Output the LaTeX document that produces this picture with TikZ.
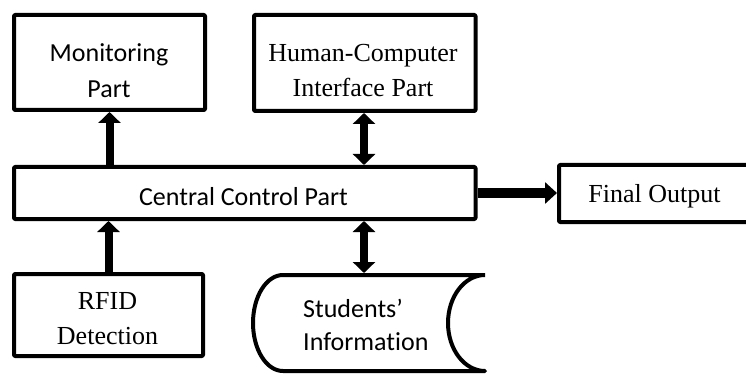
\documentclass[tikz,border=0pt]{standalone}
\usepackage{fontspec}
\setmainfont{Liberation Serif}
\newfontfamily\calfont[Ligatures={NoCommon,NoContextual}]{Carlito}
\usetikzlibrary{arrows.meta}

\begin{document}
\begin{tikzpicture}[x=1pt,y=1pt,
  box/.style={draw, line width=4pt, line join=round, rounded corners=1pt,
    inner sep=0pt, rectangle},
  lbl/.style={inner sep=0pt, anchor=base},
  serifbig/.style={font=\fontsize{26}{35}\selectfont},
  sansbig/.style={font=\calfont\fontsize{26}{35}\selectfont},
  fatarrow/.style={line width=8pt, -{Triangle[width=22pt,length=11pt]}},
  fatboth/.style={line width=8pt,
    {Triangle[width=22pt,length=11pt]}-{Triangle[width=22pt,length=11pt]}},
  outarrow/.style={line width=10pt, -{Triangle[width=21pt,length=12pt]}}]

\useasboundingbox (0,0) rectangle (746,-374);
\clip (0,0) rectangle (746,-374);

% boxes
\node[box, minimum width=191pt, minimum height=95pt] (mon) at (109.5,-62.5) {};
\node[box, minimum width=221.5pt, minimum height=96pt] (hci) at (364.75,-63) {};
\node[box, minimum width=461.5pt, minimum height=52pt] (ctrl) at (244.75,-193) {};
\node[box, minimum width=220pt, minimum height=57pt] (fin) at (669,-193.5) {};
\node[box, minimum width=189pt, minimum height=82pt] (rfid) at (108.5,-315) {};

% stored-data shape
\draw[line width=4pt, line join=round] (485,-275) -- (283,-275)
  arc[start angle=90, end angle=270, x radius=30pt, y radius=48pt]
  -- (485,-371)
  arc[start angle=270, end angle=90, x radius=37pt, y radius=48pt];
\coordinate (studtop) at (364,-273);

% labels
\node[lbl, sansbig] (tmon) at (109,-62)
  {\begin{tabular}[t]{@{}c@{}}Monitoring\\[1pt]Part\end{tabular}};
\node[lbl, serifbig] (thci) at (363,-62)
  {\begin{tabular}[t]{@{}c@{}}Human-Computer\\Interface Part\end{tabular}};
\node[lbl, sansbig] (tctrl) at (243.5,-205) {Central Control Part};
\node[lbl, serifbig] (tfin) at (654.5,-202) {Final Output};
\node[lbl, serifbig] (trfid) at (107.5,-309)
  {\begin{tabular}[t]{@{}c@{}}RFID\\Detection\end{tabular}};
\node[lbl, sansbig, anchor=base west] (tstud) at (303,-317)
  {\fontsize{26}{33}\selectfont\begin{tabular}[t]{@{}l@{}}Students’\\Information\end{tabular}};

% connectors
\draw[fatarrow] (ctrl.north -| mon.south) -- (mon.south);
\draw[fatboth] (ctrl.north -| studtop) -- (hci.south -| studtop);
\draw[fatarrow] (rfid.north) -- (rfid.north |- ctrl.south);
\draw[fatboth] (ctrl.south -| studtop) -- (studtop);
\draw[outarrow] (ctrl.east) -- (ctrl.east -| fin.west);
\end{tikzpicture}
\end{document}
